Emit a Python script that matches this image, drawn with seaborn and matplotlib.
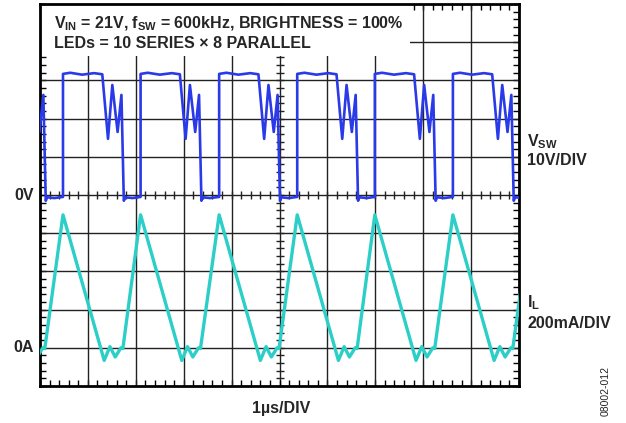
import numpy as np
import pandas as pd
import matplotlib
matplotlib.use("Agg")
import matplotlib.pyplot as plt
from matplotlib.patches import Rectangle
from matplotlib.ticker import MultipleLocator
import seaborn as sns

# scope capture: 1us/div, V_SW 10V/div (0V on centre line), I_L 200mA/div (0A four divs down)
edge_us = [-1.15, 0.48, 2.10, 3.74, 5.37, 6.99, 8.62, 10.25]  # V_SW rising edges

# one switching period, offsets from its rising edge
vsw_dt_us = [0.00, 0.00, 0.15, 0.40, 0.65, 0.82, 0.94, 1.03, 1.14, 1.22, 1.27, 1.30, 1.45]
vsw_volts = [-0.5, 31.7, 32.0, 31.5, 31.9, 31.6, 14.7, 28.8, 16.5, 26.2, -1.5, -0.6, -0.8]

il_dt_us = [0.00, 0.86, 0.98, 1.09, 1.21, 1.25]
il_ma = [696, -66, 6, -48, 0, -4]

VSW_PER_DIV = 10.0
IL_PER_DIV = 200.0
IL_ZERO_DIV = -4

sns.set_theme(style="white")
plt.rcParams["font.family"] = ["Liberation Sans", "DejaVu Sans"]
plt.rcParams["font.weight"] = "bold"
plt.rcParams["mathtext.fontset"] = "custom"
plt.rcParams["mathtext.rm"] = "Liberation Sans:bold"
plt.rcParams["mathtext.it"] = "Liberation Sans:bold"
plt.rcParams["mathtext.bf"] = "Liberation Sans:bold"

rows = []
for t0 in edge_us:
    for dt, v in zip(vsw_dt_us, vsw_volts):
        rows.append(("vsw", t0 + dt, v / VSW_PER_DIV))
    for dt, i in zip(il_dt_us, il_ma):
        rows.append(("il", t0 + dt, i / IL_PER_DIV + IL_ZERO_DIV))
df = pd.DataFrame(rows, columns=["trace", "t", "div"])

fig = plt.figure(figsize=(6.26, 4.23), dpi=100)
pos = [40 / 626, 37 / 423, 479 / 626, 382 / 423]

# centre cross with its tick marks sits underneath the main axes
ax2 = fig.add_axes(pos)
ax2.set_xlim(0, 10)
ax2.set_ylim(-5, 5)
for s in ["top", "right"]:
    ax2.spines[s].set_visible(False)
ax2.spines["left"].set_position(("data", 5))
ax2.spines["bottom"].set_position(("data", 0))
for s in ["left", "bottom"]:
    ax2.spines[s].set_color("#222222")
    ax2.spines[s].set_linewidth(1.0)
ax2.xaxis.set_major_locator(MultipleLocator(1))
ax2.xaxis.set_minor_locator(MultipleLocator(0.2))
ax2.yaxis.set_major_locator(MultipleLocator(1))
ax2.yaxis.set_minor_locator(MultipleLocator(0.2))
ax2.tick_params(which="both", direction="inout", length=6, width=1, color="#222222",
                labelbottom=False, labelleft=False, bottom=True, left=True)
ax2.set_zorder(0)

ax = fig.add_axes(pos)
ax.set_zorder(1)
ax.patch.set_visible(False)
ax.set_xlim(0, 10)
ax.set_ylim(-5, 5)

for x in range(1, 10):
    if x != 5:
        ax.axvline(x, color="#222222", lw=1.0, zorder=1)
for y in range(-4, 5):
    if y != 0:
        ax.axhline(y, color="#222222", lw=1.0, zorder=1)

# white panel behind the test conditions
ax.add_patch(Rectangle((0, 0.864), 0.772, 0.136, transform=ax.transAxes,
                       facecolor="white", edgecolor="none", zorder=2))

sns.lineplot(data=df[df.trace == "il"], x="t", y="div", sort=False, estimator=None,
             color="#2ccfc8", lw=2.4, ax=ax, zorder=3)
sns.lineplot(data=df[df.trace == "vsw"], x="t", y="div", sort=False, estimator=None,
             color="#2b3ae8", lw=1.9, ax=ax, zorder=4)

ax.set_xlabel("")
ax.set_ylabel("")
ax.xaxis.set_major_locator(MultipleLocator(1))
ax.xaxis.set_minor_locator(MultipleLocator(0.2))
ax.yaxis.set_major_locator(MultipleLocator(1))
ax.yaxis.set_minor_locator(MultipleLocator(0.2))
ax.tick_params(which="both", direction="in", length=4, width=1, color="black",
               top=True, right=True, bottom=True, left=True,
               labelbottom=False, labelleft=False)
for s in ax.spines.values():
    s.set_color("black")
    s.set_linewidth(2.0)

fs = 11.5
fig.text(54 / 626, 1 - 28 / 423, r"$V_{IN}$ = 21V, $f_{SW}$ = 600kHz, BRIGHTNESS = 100%",
         fontsize=fs, fontweight="bold", va="baseline")
fig.text(54 / 626, 1 - 48 / 423, "LEDs = 10 SERIES \u00d7 8 PARALLEL",
         fontsize=fs, fontweight="bold", va="baseline")

ax.text(-0.13, 0, "0V", ha="right", va="center", fontsize=fs, fontweight="bold", clip_on=False)
ax.text(-0.13, IL_ZERO_DIV, "0A", ha="right", va="center", fontsize=fs, fontweight="bold", clip_on=False)

ax.text(10.17, 1.28, r"$V_{SW}$", ha="left", va="baseline", fontsize=fs, clip_on=False)
ax.text(10.17, 0.79, "10V/DIV", ha="left", va="baseline", fontsize=fs, fontweight="bold", clip_on=False)
ax.text(10.17, -2.93, r"$I_{L}$", ha="left", va="baseline", fontsize=fs, clip_on=False)
ax.text(10.17, -3.48, "200mA/DIV", ha="left", va="baseline", fontsize=fs, fontweight="bold", clip_on=False)

fig.text(281 / 626, 1 - 408 / 423, "1\u00b5s/DIV", ha="center", va="center",
         fontsize=fs, fontweight="bold")
fig.text(606 / 626, 1 - 391 / 423, "08002-012", ha="center", va="center", rotation=90,
         fontsize=7.5, fontweight="normal")

fig.savefig("out.png", dpi=100)
